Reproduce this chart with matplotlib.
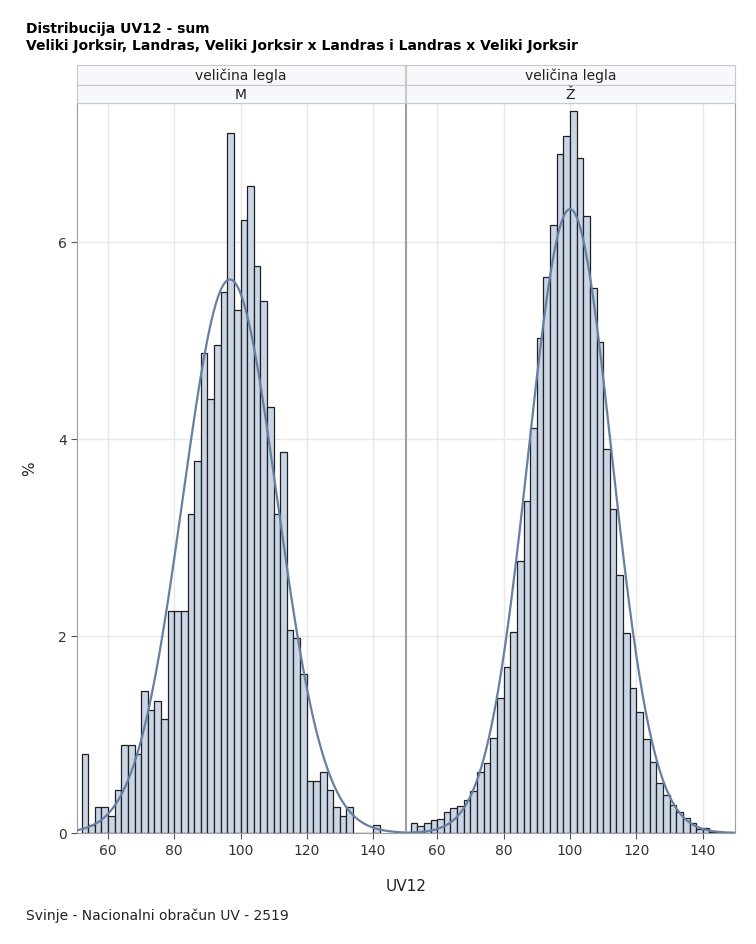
import numpy as np
import matplotlib
matplotlib.use("Agg")
import matplotlib.pyplot as plt
from matplotlib.patches import Rectangle

bin_width = 2
bin_start = 52

# percent per 2-unit bin, starting at 52
pct_m = [0.80, 0.08, 0.26, 0.26, 0.17, 0.44, 0.89, 0.89, 0.80, 1.44,
         1.25, 1.34, 1.16, 2.25, 2.25, 2.25, 3.24, 3.78, 4.87, 4.41,
         4.95, 5.49, 7.11, 5.31, 6.22, 6.57, 5.76, 5.40, 4.32, 3.24,
         3.87, 2.06, 1.98, 1.61, 0.53, 0.53, 0.62, 0.44, 0.26, 0.17,
         0.26, 0.0, 0.0, 0.0, 0.08]
pct_z = [0.10, 0.07, 0.10, 0.13, 0.14, 0.21, 0.25, 0.27, 0.34, 0.43,
         0.62, 0.71, 0.96, 1.37, 1.68, 2.04, 2.76, 3.37, 4.11, 5.02,
         5.64, 6.17, 6.89, 7.07, 7.33, 6.85, 6.26, 5.53, 4.98, 3.90,
         3.29, 2.62, 2.03, 1.47, 1.23, 0.95, 0.72, 0.51, 0.39, 0.28,
         0.21, 0.15, 0.10, 0.04, 0.05, 0.01, 0.01]
# fitted normal curves (mean, std)
fit_m = (96.8, 14.2)
fit_z = (100.0, 12.6)
panel_labels = ["M", "Ž"]
strip_label = "veličina legla"

W, H = 756, 945
fig = plt.figure(figsize=(W / 100, H / 100), dpi=100)

def fx(px):
    return px / W

def fy(py):
    return 1 - py / H

bar_face = "#cad5e5"
curve_col = "#667fa2"
frame_col = "#a0a0a0"

panels = [(77, 405, pct_m, fit_m, "M"), (406, 735, pct_z, fit_z, "Ž")]
axes = []
for i, (x0, x1, pct, fit, lab) in enumerate(panels):
    ax = fig.add_axes([fx(x0), fy(834), fx(x1) - fx(x0), fy(104) - fy(834)])
    lefts = bin_start + bin_width * np.arange(len(pct))
    ax.bar(lefts, pct, width=bin_width, align="edge", color=bar_face,
           edgecolor="#202020", linewidth=0.9, zorder=2)
    xs = np.linspace(50.6, 149.7, 400)
    mu, sd = fit
    ys = 100 * bin_width / (sd * np.sqrt(2 * np.pi)) * np.exp(-0.5 * ((xs - mu) / sd) ** 2)
    ax.plot(xs, ys, color=curve_col, lw=1.6, zorder=3)
    ax.set_xlim(50.6, 149.7)
    ax.set_ylim(0, 7.41)
    ax.set_xticks([60, 80, 100, 120, 140])
    ax.set_yticks([0, 2, 4, 6])
    ax.grid(True, color="#e8e8e8", lw=1, zorder=0)
    ax.set_axisbelow(True)
    for s in ax.spines.values():
        s.set_color(frame_col)
    ax.tick_params(colors="#333333", labelsize=10, length=4, color="#555555")
    if i == 1:
        ax.tick_params(axis="y", left=False, labelleft=False)
    # strip headers
    for (ya, yb, txt) in [(66, 86, strip_label), (86, 104, lab)]:
        sax = fig.add_axes([fx(x0), fy(yb), fx(x1) - fx(x0), fy(ya) - fy(yb)])
        sax.set_xticks([]); sax.set_yticks([])
        sax.set_facecolor("#f7f8fc")
        for s in sax.spines.values():
            s.set_color("#c8c8c8")
        sax.text(0.5, 0.5, txt, ha="center", va="center", fontsize=10, color="#222222",
                 transform=sax.transAxes)
    axes.append(ax)

fig.text(fx(26), fy(29), "Distribucija UV12 - sum", fontsize=10, fontweight="bold", va="center")
fig.text(fx(26), fy(46), "Veliki Jorksir, Landras, Veliki Jorksir x Landras i Landras x Veliki Jorksir",
         fontsize=10, fontweight="bold", va="center")
fig.text(fx(30), fy(469), "%", rotation=90, fontsize=11, ha="center", va="center", color="#222222")
fig.text(fx(406), fy(887), "UV12", fontsize=11, ha="center", va="center", color="#222222")
fig.text(fx(26), fy(916), "Svinje - Nacionalni obračun UV - 2519", fontsize=10, va="center", color="#222222")

fig.savefig("out.png", dpi=100)
